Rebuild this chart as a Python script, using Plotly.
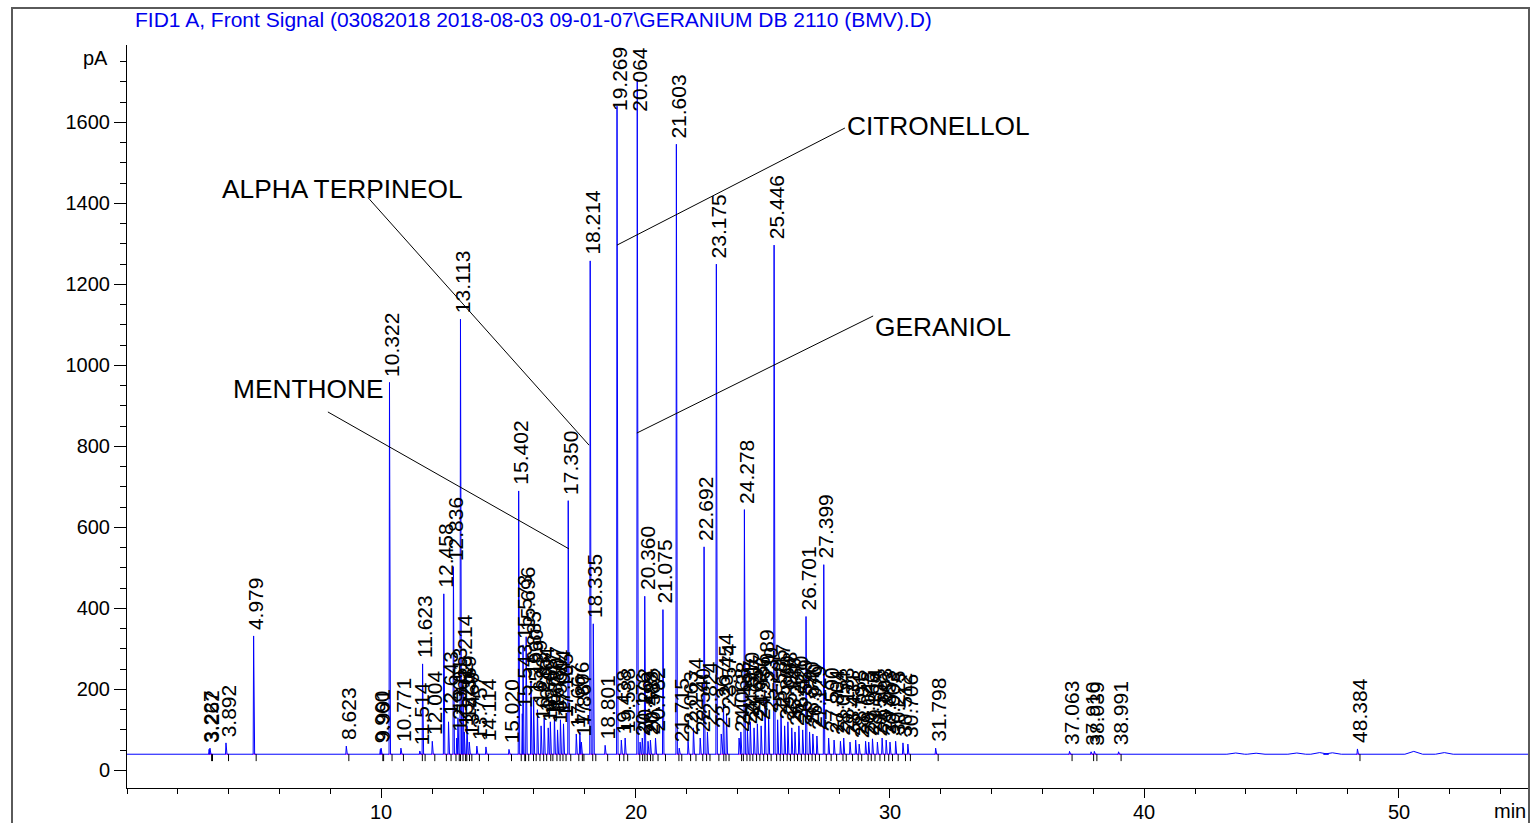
import plotly.graph_objects as go

# ---------------- data ----------------
title_text = "FID1 A, Front Signal (03082018 2018-08-03 09-01-07\\GERANIUM DB 2110 (BMV).D)"

peak_rt = [3.227, 3.262, 3.892, 4.979, 8.623, 9.960, 9.991, 10.322, 10.771, 11.514,
           11.623, 12.004, 12.458, 12.643, 12.836, 12.965, 13.013, 13.113, 13.214, 13.262,
           13.369, 13.460, 13.757, 14.114, 15.020, 15.402, 15.543, 15.573, 15.696, 15.885,
           15.990, 16.139, 16.283, 16.404, 16.563, 16.647, 16.807, 16.930, 17.044, 17.165,
           17.350, 17.667, 17.806, 17.867, 18.214, 18.335, 18.801, 19.269, 19.438, 19.588,
           20.064, 20.176, 20.262, 20.360, 20.488, 20.582, 20.782, 21.075, 21.603, 21.715,
           22.063, 22.274, 22.540, 22.692, 22.824, 23.175, 23.367, 23.454, 23.574, 24.068,
           24.138, 24.278, 24.397, 24.510, 24.657, 24.787, 24.936, 25.089, 25.230, 25.446,
           25.585, 25.717, 25.860, 25.988, 26.140, 26.267, 26.420, 26.569, 26.701, 26.840,
           26.970, 27.129, 27.399, 27.590, 27.804, 28.054, 28.183, 28.431, 28.653, 28.791,
           29.043, 29.166, 29.314, 29.508, 29.693, 29.853, 30.003, 30.225, 30.512, 30.706,
           31.798, 37.063, 37.910, 38.039, 38.991, 48.384]

peak_height = [52, 55, 68, 332, 60, 52, 55, 958, 55, 48,
               263, 72, 436, 120, 503, 80, 130, 1114, 210, 95,
               110, 70, 60, 58, 52, 690, 140, 310, 330, 220,
               175, 150, 110, 130, 105, 120, 135, 100, 125, 115,
               666, 90, 95, 70, 1258, 362, 62, 1640, 75, 80,
               1707, 70, 80, 430, 72, 75, 80, 397, 1546, 55,
               72, 105, 80, 552, 95, 1250, 90, 165, 140, 80,
               95, 644, 100, 120, 105, 115, 110, 175, 130, 1297,
               125, 140, 110, 120, 105, 95, 110, 100, 380, 95,
               90, 85, 508, 80, 75, 72, 80, 70, 75, 65,
               72, 70, 78, 70, 80, 75, 70, 72, 68, 65,
               55, 47, 46, 47, 46, 53]

baseline_pA = 40

hump_rt = [43.6, 44.4, 46.0, 46.9, 47.4, 50.6, 51.8]
hump_height = [43, 42.5, 43, 44, 43.5, 47, 44]

# compound call-outs: label, text anchor (min, pA), line start, line end
compound_names = ["ALPHA TERPINEOL", "MENTHONE", "CITRONELLOL", "GERANIOL"]
compound_text_x = [3.66, 4.09, 28.23, 29.34]
compound_text_y = [1436, 942, 1591, 1095]
callout_x0 = [9.48, 7.90, 28.23, 29.34]
callout_y0 = [1414, 885, 1586, 1122]
callout_x1 = [18.17, 17.38, 19.27, 20.05]
callout_y1 = [803, 547, 1297, 833]

x_major = [10, 20, 30, 40, 50]
y_major = [0, 200, 400, 600, 800, 1000, 1200, 1400, 1600]

X_MAX = 55.17
Y_MIN, Y_MAX = -43.4, 1791

# ---------------- build trace vertices from the peak table ----------------
events = []
for t, h in zip(peak_rt, peak_height):
    events.append((t, [t - 0.018, t, t + 0.04], [baseline_pA, h, baseline_pA]))
for t, h in zip(hump_rt, hump_height):
    events.append((t, [t - 0.35, t, t + 0.35], [baseline_pA, h, baseline_pA]))
events.sort(key=lambda e: e[0])

sx, sy = [0.0], [baseline_pA]
for _, xs, ys in events:
    sx += xs
    sy += ys
sx.append(X_MAX)
sy.append(baseline_pA)

# integration baselines (magenta) and peak-end markers (black ticks)
mx, my, kx, ky = [], [], [], []
for t in peak_rt:
    mx += [t - 0.04, t + 0.1, None]
    my += [baseline_pA, baseline_pA, None]
    kx += [t + 0.1, t + 0.1, None]
    ky += [baseline_pA, baseline_pA - 17, None]

fig = go.Figure()
fig.add_trace(go.Scatter(x=mx, y=my, mode="lines",
                         line=dict(color="#FF00FF", width=1), hoverinfo="skip"))
fig.add_trace(go.Scatter(x=sx, y=sy, mode="lines",
                         line=dict(color="#0000FF", width=1), hoverinfo="skip"))
fig.add_trace(go.Scatter(x=kx, y=ky, mode="lines",
                         line=dict(color="#000000", width=1), hoverinfo="skip"))

FONT = "Liberation Sans, Arial, sans-serif"

W, H = 1532, 823
L, R, T, B = 127, 2, 45, 35
PW, PH = W - L - R, H - T - B
PX_PER_PA = PH / (Y_MAX - Y_MIN)
LABEL_FONT = 21


def px(p):
    """page pixel x -> paper fraction"""
    return (p - L) / PW


def py(p):
    """page pixel y -> paper fraction"""
    return (H - B - p) / PH


annotations = []
for t, h in zip(peak_rt, peak_height):
    txt = f"{t:.3f}"
    label_px = LABEL_FONT * (0.556 * (len(txt) - 1) + 0.278) + 6
    if h + label_px / PX_PER_PA > Y_MAX:
        # label would run past the top: pin it to the top of the plot
        annotations.append(dict(x=t, y=Y_MAX, text=txt, textangle=-90,
                                xanchor="center", yanchor="top", xshift=2, yshift=0,
                                showarrow=False,
                                font=dict(family=FONT, size=LABEL_FONT, color="black")))
    else:
        annotations.append(dict(x=t, y=h, text=txt, textangle=-90,
                                xanchor="center", yanchor="bottom", xshift=2, yshift=4,
                                showarrow=False,
                                font=dict(family=FONT, size=LABEL_FONT, color="black")))
for name, tx, ty in zip(compound_names, compound_text_x, compound_text_y):
    annotations.append(dict(x=tx, y=ty, text=name, xanchor="left", yanchor="middle",
                            showarrow=False, font=dict(family=FONT, size=26.3, color="black")))

# x tick labels placed where the reference has them
for v in x_major:
    annotations.append(dict(x=v, xref="x", yref="paper", y=py(812), text=str(v),
                            xanchor="center", yanchor="middle", showarrow=False,
                            borderpad=0,
                            font=dict(family=FONT, size=20, color="black")))

annotations.append(dict(xref="paper", yref="paper", x=px(133), y=py(20), text=title_text,
                        xanchor="left", yanchor="middle", showarrow=False,
                        font=dict(family=FONT, size=21, color="#0000EE")))
annotations.append(dict(xref="paper", y=1750, yref="y", x=px(110), text="pA",
                        xanchor="right", yanchor="middle", yshift=4, showarrow=False,
                        font=dict(family=FONT, size=20, color="black")))
annotations.append(dict(xref="paper", yref="paper", x=px(1493), y=py(811), text="min",
                        xanchor="left", yanchor="middle", showarrow=False, borderpad=0,
                        font=dict(family=FONT, size=20, color="black")))

shapes = []
for x0, y0, x1, y1 in zip(callout_x0, callout_y0, callout_x1, callout_y1):
    shapes.append(dict(type="line", xref="x", yref="y", x0=x0, y0=y0, x1=x1, y1=y1,
                       line=dict(color="black", width=1)))
shapes.append(dict(type="rect", xref="paper", yref="paper",
                   x0=px(12), x1=px(1529), y0=py(900), y1=py(8),
                   line=dict(color="#5a5a5a", width=2), fillcolor="rgba(0,0,0,0)"))

fig.update_layout(
    width=W, height=H,
    margin=dict(l=L, r=R, t=T, b=B, pad=0),
    paper_bgcolor="white", plot_bgcolor="white",
    showlegend=False,
    font=dict(family=FONT, size=20, color="black"),
    annotations=annotations,
    shapes=shapes,
    xaxis=dict(range=[0, X_MAX], tickvals=x_major, ticks="outside", ticklen=9,
               tickcolor="black", showline=True, linecolor="black", linewidth=1,
               showgrid=False, zeroline=False, showticklabels=False,
               minor=dict(dtick=2, tick0=0, ticks="outside", ticklen=5,
                          tickcolor="black", showgrid=False)),
    yaxis=dict(range=[Y_MIN, Y_MAX], tickvals=y_major, ticks="outside", ticklen=12,
               tickcolor="black", showline=True, linecolor="black", linewidth=1,
               showgrid=False, zeroline=False,
               tickfont=dict(family=FONT, size=20, color="black"),
               minor=dict(dtick=50, tick0=0, ticks="outside", ticklen=6,
                          tickcolor="black", showgrid=False)),
)

fig.write_html(
    "out.html",
    config={"displayModeBar": False},
    post_script="document.body.style.margin='0';document.body.style.overflow='hidden';"
                "document.documentElement.style.overflow='hidden';",
)
